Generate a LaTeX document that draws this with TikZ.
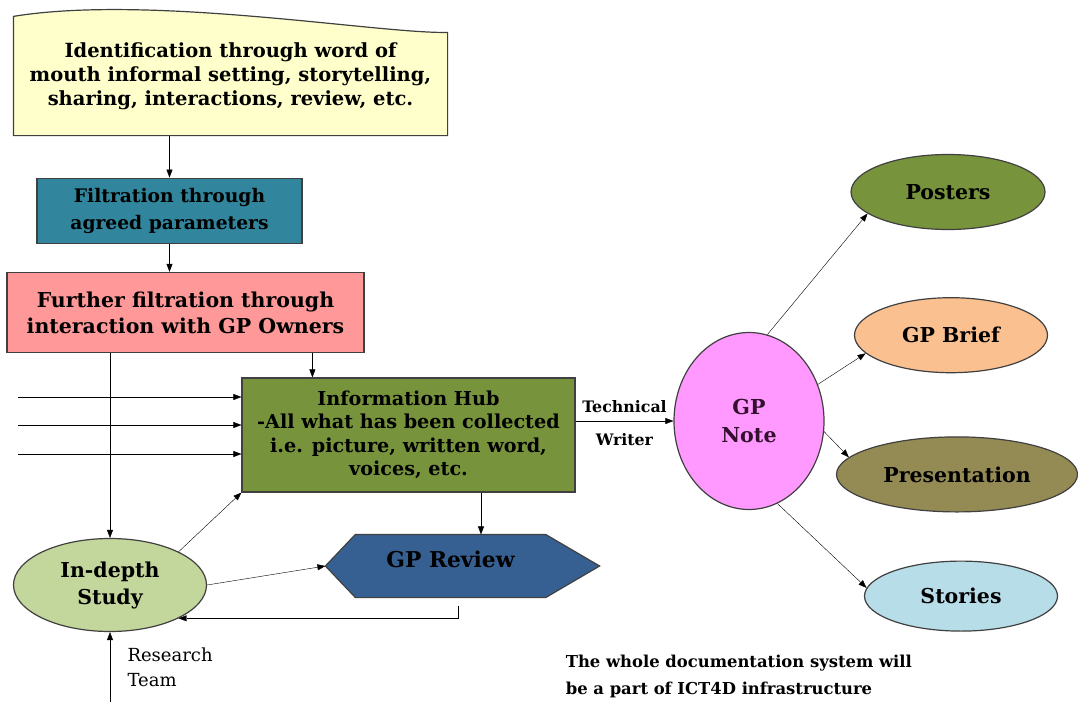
\documentclass[tikz,border=0pt]{standalone}
\usepackage{fontspec}
\setmainfont{DejaVu Serif}
\usetikzlibrary{positioning}
\usetikzlibrary{backgrounds}
\usetikzlibrary{shapes.geometric}
\usetikzlibrary{arrows.meta}
\definecolor{identfill}{HTML}{FFFFCC}
\definecolor{filtfill}{HTML}{31859C}
\definecolor{furtherfill}{HTML}{FF9999}
\definecolor{hubfill}{HTML}{77933C}
\definecolor{studyfill}{HTML}{C3D69B}
\definecolor{reviewfill}{HTML}{376092}
\definecolor{notefill}{HTML}{FF99FF}
\definecolor{notetext}{HTML}{33102F}
\definecolor{brieffill}{HTML}{FAC090}
\definecolor{presfill}{HTML}{948A54}
\definecolor{storiesfill}{HTML}{B7DDE8}

\begin{document}
\begin{tikzpicture}[x=1pt,y=-1pt,line width=1pt,>={Triangle[length=8pt,width=6pt]},
  box/.style={draw=black!75,line width=1.2pt,align=center,inner sep=0pt},
  oval/.style={ellipse,draw=black!75,line width=1.2pt,align=center,inner sep=0pt,font=\bfseries\fontsize{20.5}{27}\selectfont}]
  \useasboundingbox (0,0) rectangle (1078,701);
  \node[box,draw=none,minimum width=433pt,minimum height=118pt,font=\bfseries\fontsize{19.5}{24}\selectfont](ident) at (230.5,76) {Identification through word of\\mouth informal setting, storytelling,\\sharing, interactions, review, etc.};
  \node[box,fill=filtfill,minimum width=265pt,minimum height=65pt,font=\bfseries\fontsize{18.7}{27}\selectfont,below right=42pt and 23pt of ident.south west](filt) {Filtration through\\agreed parameters};
  \node[box,fill=furtherfill,minimum width=357pt,minimum height=80pt,font=\bfseries\fontsize{20.5}{26}\selectfont,below right=28pt and -30pt of filt.south west](further) {Further filtration through\\interaction with GP Owners};
   \node[box,fill=hubfill,minimum width=333pt,minimum height=114pt,font=\bfseries\fontsize{19.2}{23.5}\selectfont](hub) at (408.5,435) {Information Hub\\-All what has been collected\\i.e. picture, written word,\\voices, etc.};
   \node[oval,fill=studyfill,minimum width=193pt,minimum height=93pt](study) at (110,585) {In-depth\\Study};
   \node[box,draw=none,minimum width=189pt,minimum height=62pt,text depth=14pt,font=\bfseries\fontsize{21.8}{24}\selectfont](review) at (450.5,566) {GP Review};
   \node[oval,fill=notefill,minimum width=150pt,minimum height=177pt,text=notetext,font=\bfseries\fontsize{20.6}{28}\selectfont](note) at (749,421) {GP\\Note};
   \node[oval,fill=hubfill,minimum width=194pt,minimum height=75pt](posters) at (948,192) {Posters};
   \node[oval,fill=brieffill,minimum width=193pt,minimum height=75pt,below=67pt of posters,xshift=3pt](brief) {GP Brief};
   \node[oval,fill=presfill,minimum width=241pt,minimum height=75pt,below=63pt of brief,xshift=6pt](pres) {Presentation};
   \node[oval,fill=storiesfill,minimum width=193pt,minimum height=70pt,below=48pt of pres,xshift=4pt](stories) {Stories};
   \node[anchor=west,align=left,font=\bfseries\fontsize{16.4}{27}\selectfont](remark) at (562,676) {The whole documentation system will\\be a part of ICT4D infrastructure};
  \begin{pgfonlayer}{background}
   \filldraw[fill=identfill,draw=black!75,line width=1.2pt] (ident.south west)--(ident.south east)--([yshift=-16pt]ident.north east) .. controls (380,34) and (150,-6) .. (ident.north west)--cycle;
   \filldraw[fill=reviewfill,draw=black!75,line width=1.2pt] (review.north west)--(review.north east)--([xshift=54pt]review.east)--(review.south east)--(review.south west)--([xshift=-30pt]review.west)--cycle;
  \end{pgfonlayer}
   \coordinate (hubin) at ([xshift=71pt]hub.north west);
   \coordinate (reviewin) at ([xshift=30.5pt]review.north);
   \coordinate (reviewtip) at ([xshift=-30pt]review.west);
   \coordinate (reviewback) at ([xshift=7.5pt,yshift=-8pt]review.south);
   \coordinate (team) at ([yshift=-69.5pt]study.south);
   \draw[->] (ident.south -| filt.north)--(filt.north);
   \draw[->] (filt.south)--(filt.south |- further.north);
   \draw[->] (further.south -| study.north)--(study.north);
   \draw[->] (hubin |- further.south)--(hubin);
   \foreach \y [count=\i] in {397,425,454} {
     \coordinate (in\i) at (18,\y);
     \draw[->] (in\i)--(in\i -| hub.west);
   }
   \draw[->] (study.north east)--(hub.south west);
   \draw[->] (reviewin |- hub.south)--(reviewin);
   \draw[->] (study.east)--(reviewtip);
   \draw[->] (reviewback) |- (study.south east);
   \draw[->] (team)--node[right=14pt,align=left,font=\fontsize{18}{25}\selectfont](teamlabel){Research\\Team} (study.south);
   \draw[->] (note.west -| hub.east)--node[above=5pt,font=\bfseries\fontsize{15.8}{16}\selectfont](techlabel){Technical} node[below=9pt,font=\bfseries\fontsize{15.8}{16}\selectfont](writerlabel){Writer} (note.west);
   \draw[->] (note.78)--(posters.195);
   \draw[->] (note.28)--(brief.192);
   \draw[->] (note.-8)--(pres.171);
   \draw[->] (note.-71)--(stories.175);
 \end{tikzpicture}
\end{document}
